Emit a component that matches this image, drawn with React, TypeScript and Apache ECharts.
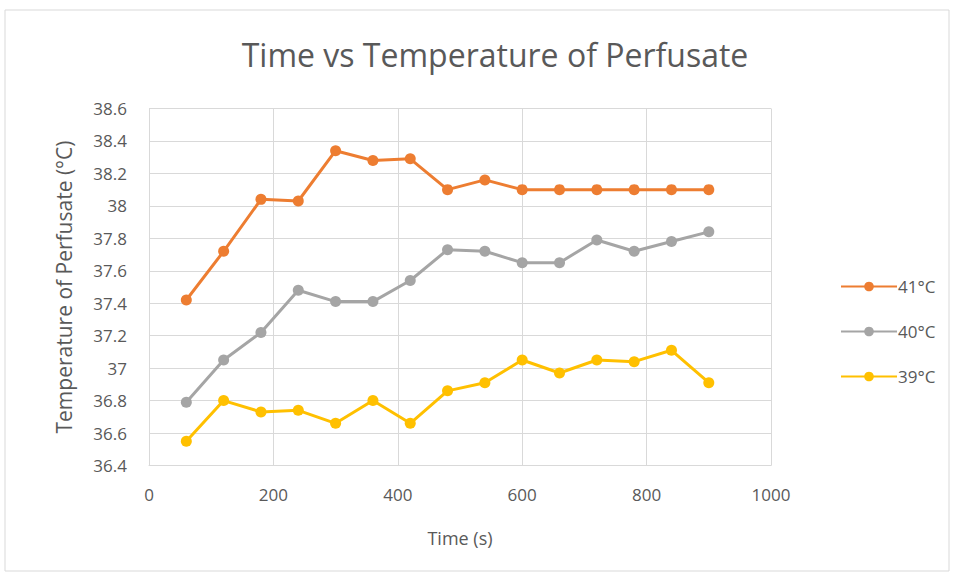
import React, { useEffect, useRef } from "react";
import * as echarts from "echarts";

const times = [60, 120, 180, 240, 300, 360, 420, 480, 540, 600, 660, 720, 780, 840, 900];
const temp41 = [37.42, 37.72, 38.04, 38.03, 38.34, 38.28, 38.29, 38.1, 38.16, 38.1, 38.1, 38.1, 38.1, 38.1, 38.1];
const temp40 = [36.79, 37.05, 37.22, 37.48, 37.41, 37.41, 37.54, 37.73, 37.72, 37.65, 37.65, 37.79, 37.72, 37.78, 37.84];
const temp39 = [36.55, 36.8, 36.73, 36.74, 36.66, 36.8, 36.66, 36.86, 36.91, 37.05, 36.97, 37.05, 37.04, 37.11, 36.91];
const seriesNames = ["41°C", "40°C", "39°C"];
const seriesColors = ["#ED7D31", "#A5A5A5", "#FFC000"];

const FONT = "'Open Sans', sans-serif";
const TEXT = "#595959";
const GRID = "#d9d9d9";

export default function App() {
  const ref = useRef<HTMLDivElement>(null);
  useEffect(() => {
    if (!ref.current) return;
    const chart = echarts.init(ref.current, undefined, { renderer: "svg" });
    const allData = [temp41, temp40, temp39];
    chart.setOption({
      animation: false,
      backgroundColor: "#ffffff",
      textStyle: { fontFamily: FONT },
      title: {
        text: "Time vs Temperature of Perfusate",
        left: 490,
        top: 33,
        textAlign: "center",
        textStyle: { fontFamily: FONT, fontSize: 32, fontWeight: "normal", color: TEXT },
      },
      graphic: [
        {
          type: "rect",
          shape: { x: 5, y: 10, width: 944, height: 561 },
          style: { fill: "none", stroke: "#d9d9d9", lineWidth: 1 },
          silent: true,
        },
      ],
      legend: {
        orient: "vertical",
        left: 835,
        top: 273,
        itemWidth: 56,
        itemHeight: 12,
        itemGap: 28,
        data: seriesNames,
        textStyle: { fontFamily: FONT, fontSize: 17, color: TEXT, padding: [0, 0, 0, -4] },
      },
      grid: { left: 149, right: 185, top: 108.5, bottom: 111.5, containLabel: false },
      xAxis: {
        type: "value",
        min: 0,
        max: 1000,
        interval: 200,
        name: "Time (s)",
        nameLocation: "middle",
        nameGap: 63,
        nameTextStyle: { fontFamily: FONT, fontSize: 18, color: TEXT },
        axisLine: { show: true, lineStyle: { color: GRID } },
        axisTick: { show: false },
        axisLabel: { fontFamily: FONT, fontSize: 17, color: TEXT, margin: 20, formatter: (v: number) => String(v) },
        splitLine: { show: true, lineStyle: { color: GRID, width: 1 } },
      },
      yAxis: {
        type: "value",
        min: 36.4,
        max: 38.6,
        interval: 0.2,
        name: "Temperature of Perfusate (°C)",
        nameLocation: "middle",
        nameGap: 75,
        nameTextStyle: { fontFamily: FONT, fontSize: 21, color: TEXT },
        axisLine: { show: true, lineStyle: { color: GRID } },
        axisTick: { show: false },
        axisLabel: { fontFamily: FONT, fontSize: 17, color: TEXT, margin: 22 },
        splitLine: { show: true, lineStyle: { color: GRID, width: 1 } },
      },
      series: seriesNames.map((name, i) => ({
        name,
        type: "line",
        data: times.map((t, j) => [t, allData[i][j]]),
        symbol: "circle",
        symbolSize: 11,
        itemStyle: { color: seriesColors[i] },
        lineStyle: { color: seriesColors[i], width: 3 },
      })),
    });
    return () => chart.dispose();
  }, []);
  return (
    <div style={{ position: "fixed", left: 0, top: 0, width: 956, height: 577, background: "#fff" }}>
      <div ref={ref} style={{ width: 956, height: 577 }} />
    </div>
  );
}
